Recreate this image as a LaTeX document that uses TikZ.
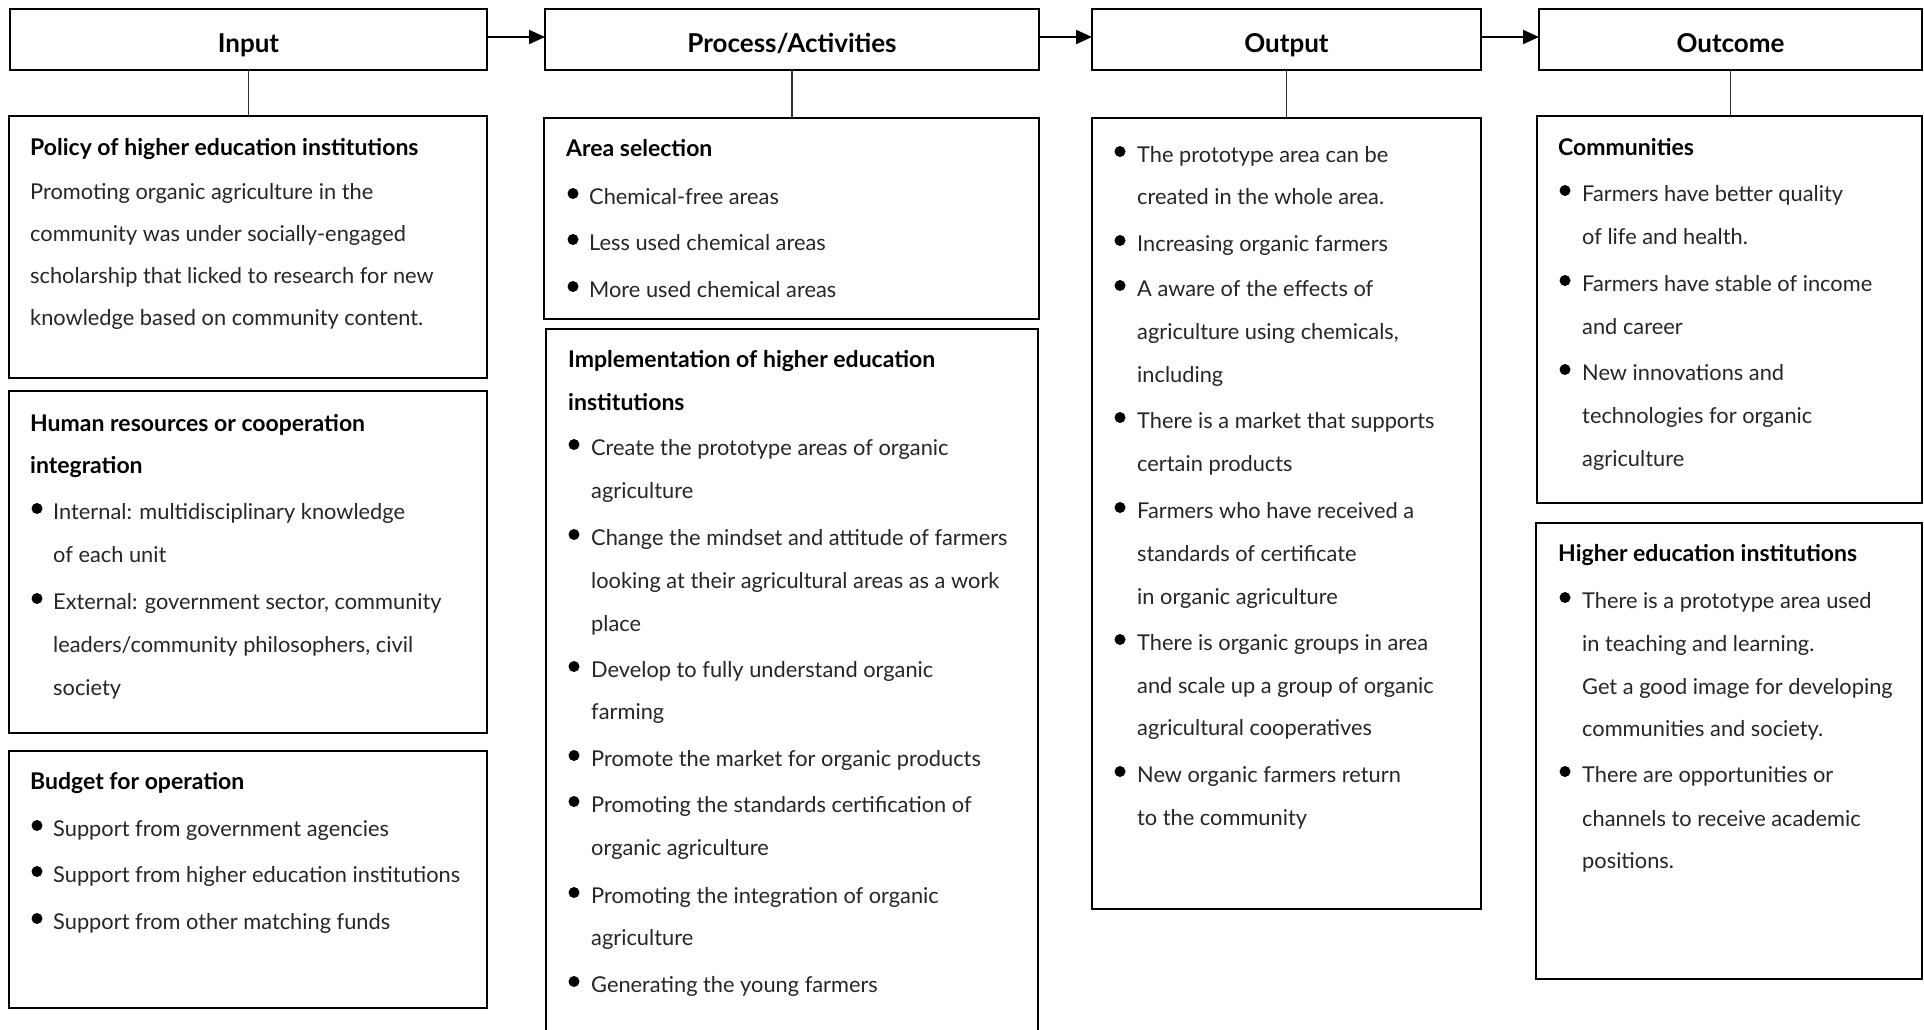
\documentclass[tikz,border=0pt]{standalone}
\usepackage{fontspec}
\setmainfont{Lato}
\usetikzlibrary{arrows.meta}
\definecolor{txtgray}{HTML}{262626}
\definecolor{lngray}{HTML}{303030}
\tikzset{
  x=1pt, y=-1pt,
  bx/.style={draw=black, line width=1.7pt, rectangle, inner sep=0pt, outer sep=0pt},
  hdrtext/.style={anchor=base, inner sep=0pt, font=\fontsize{26}{30}\selectfont\bfseries, text=black},
  ttl/.style={anchor=base west, inner sep=0pt, font=\fontsize{23}{27}\selectfont\bfseries, text=black},
  txt/.style={anchor=base west, inner sep=0pt, font=\fontsize{21.8}{26}\selectfont, text=txtgray},
  dot/.style={circle, fill=black, inner sep=0pt, minimum size=11pt},
  conn/.style={draw=lngray, line width=1.3pt},
  flow/.style={draw=black, line width=2pt, -{Triangle[length=16pt,width=14pt]}}
}
\newcounter{ln}
\newcommand\Bx[5]{\node[bx, minimum width={#4-#2}, minimum height={#5-#3}] (#1) at ({(#2+#4)/2},{(#3+#5)/2}) {};}
\newcommand\Ln[3]{\stepcounter{ln}\node[txt] (l\arabic{ln}) at (#1,#2) {#3};}
\newcommand\Tl[3]{\stepcounter{ln}\node[ttl] (l\arabic{ln}) at (#1,#2) {#3};}
\newcommand\Bu[2]{\stepcounter{ln}\node[dot] (d\arabic{ln}) at (#1,#2-10.5) {};}
\begin{document}
\begin{tikzpicture}
\useasboundingbox[fill=white] (0,0) rectangle (1924,1030);
% headers
\Bx{hin}{10}{9}{487}{70}
\Bx{hpr}{545}{9}{1039}{70}
\Bx{hou}{1092}{9}{1481}{70}
\Bx{hoc}{1539}{9}{1922}{70}
\node[hdrtext] (tin) at (248.5,53) {Input};
\node[hdrtext] (tpr) at (792,53) {Process/Activities};
\node[hdrtext] (tou) at (1286.5,53) {Output};
\node[hdrtext] (toc) at (1730.5,53) {Outcome};
% bodies
\Bx{pol}{9}{116}{487}{378}
\Bx{hum}{9}{391}{487}{733}
\Bx{bud}{9}{751}{487}{1008}
\Bx{area}{544}{118}{1039}{319}
\Bx{impl}{546}{329}{1038}{1050}
\Bx{outb}{1092}{118}{1481}{909}
\Bx{comm}{1537}{116}{1922}{503}
\Bx{hei}{1536}{523}{1922}{979}
% arrows
\draw[flow] ([yshift=2.5pt]hin.east) -- ([yshift=2.5pt]hpr.west);
\draw[flow] ([yshift=2.5pt]hpr.east) -- ([yshift=2.5pt]hou.west);
\draw[flow] ([yshift=2.5pt]hou.east) -- ([yshift=2.5pt]hoc.west);
% connectors
\draw[conn] (hin.south) -- (hin.south |- pol.north);
\draw[conn] (hpr.south) -- (hpr.south |- area.north);
\draw[conn] (hou.south) -- (hou.south |- outb.north);
\draw[conn] (hoc.south) -- (hoc.south |- comm.north);
% Input column
\Tl{30}{155}{Policy of higher education institutions}
\Ln{30}{199}{Promoting organic agriculture in the}
\Ln{30}{241}{community was under socially-engaged}
\Ln{30}{283}{scholarship that licked to research for new}
\Ln{30}{325}{knowledge based on community content.}
\Tl{30}{431}{Human resources or cooperation}
\Tl{30}{473}{integration}
\Bu{37}{519}\Ln{53}{519}{Internal: multidisciplinary knowledge}
\Ln{53}{562}{of each unit}
\Bu{37}{609}\Ln{53}{609}{External: government sector, community}
\Ln{53}{652}{leaders/community philosophers, civil}
\Ln{53}{695}{society}
\Tl{30}{789}{Budget for operation}
\Bu{37}{836}\Ln{53}{836}{Support from government agencies}
\Bu{37}{882}\Ln{53}{882}{Support from higher education institutions}
\Bu{37}{929}\Ln{53}{929}{Support from other matching funds}
% Process column
\Tl{566}{157}{Area selection}
\Bu{573}{204}\Ln{589}{204}{Chemical-free areas}
\Bu{573}{250}\Ln{589}{250}{Less used chemical areas}
\Bu{573}{297}\Ln{589}{297}{More used chemical areas}
\Tl{568}{367}{Implementation of higher education}
\Tl{568}{410}{institutions}
\Bu{574}{455}\Ln{591}{455}{Create the prototype areas of organic}
\Ln{591}{498}{agriculture}
\Bu{574}{545}\Ln{591}{545}{Change the mindset and attitude of farmers}
\Ln{591}{588}{looking at their agricultural areas as a work}
\Ln{591}{631}{place}
\Bu{574}{677}\Ln{591}{677}{Develop to fully understand organic}
\Ln{591}{719}{farming}
\Bu{574}{766}\Ln{591}{766}{Promote the market for organic products}
\Bu{574}{812}\Ln{591}{812}{Promoting the standards certification of}
\Ln{591}{855}{organic agriculture}
\Bu{574}{903}\Ln{591}{903}{Promoting the integration of organic}
\Ln{591}{945}{agriculture}
\Bu{574}{992}\Ln{591}{992}{Generating the young farmers}
% Output column
\Bu{1120}{162}\Ln{1137}{162}{The prototype area can be}
\Ln{1137}{204}{created in the whole area.}
\Bu{1120}{251}\Ln{1137}{251}{Increasing organic farmers}
\Bu{1120}{296}\Ln{1137}{296}{A aware of the effects of}
\Ln{1137}{339}{agriculture using chemicals,}
\Ln{1137}{382}{including}
\Bu{1120}{428}\Ln{1137}{428}{There is a market that supports}
\Ln{1137}{471}{certain products}
\Bu{1120}{518}\Ln{1137}{518}{Farmers who have received a}
\Ln{1137}{561}{standards of certificate}
\Ln{1137}{604}{in organic agriculture}
\Bu{1120}{650}\Ln{1137}{650}{There is organic groups in area}
\Ln{1137}{693}{and scale up a group of organic}
\Ln{1137}{735}{agricultural cooperatives}
\Bu{1120}{782}\Ln{1137}{782}{New organic farmers return}
\Ln{1137}{825}{to the community}
% Outcome column
\Tl{1558}{155}{Communities}
\Bu{1565}{201}\Ln{1582}{201}{Farmers have better quality}
\Ln{1582}{244}{of life and health.}
\Bu{1565}{291}\Ln{1582}{291}{Farmers have stable of income}
\Ln{1582}{334}{and career}
\Bu{1565}{380}\Ln{1582}{380}{New innovations and}
\Ln{1582}{423}{technologies for organic}
\Ln{1582}{466}{agriculture}
\Tl{1558}{561}{Higher education institutions}
\Bu{1565}{608}\Ln{1582}{608}{There is a prototype area used}
\Ln{1582}{651}{in teaching and learning.}
\Ln{1582}{694}{Get a good image for developing}
\Ln{1582}{736}{communities and society.}
\Bu{1565}{782}\Ln{1582}{782}{There are opportunities or}
\Ln{1582}{826}{channels to receive academic}
\Ln{1582}{868}{positions.}
\end{tikzpicture}
\end{document}
